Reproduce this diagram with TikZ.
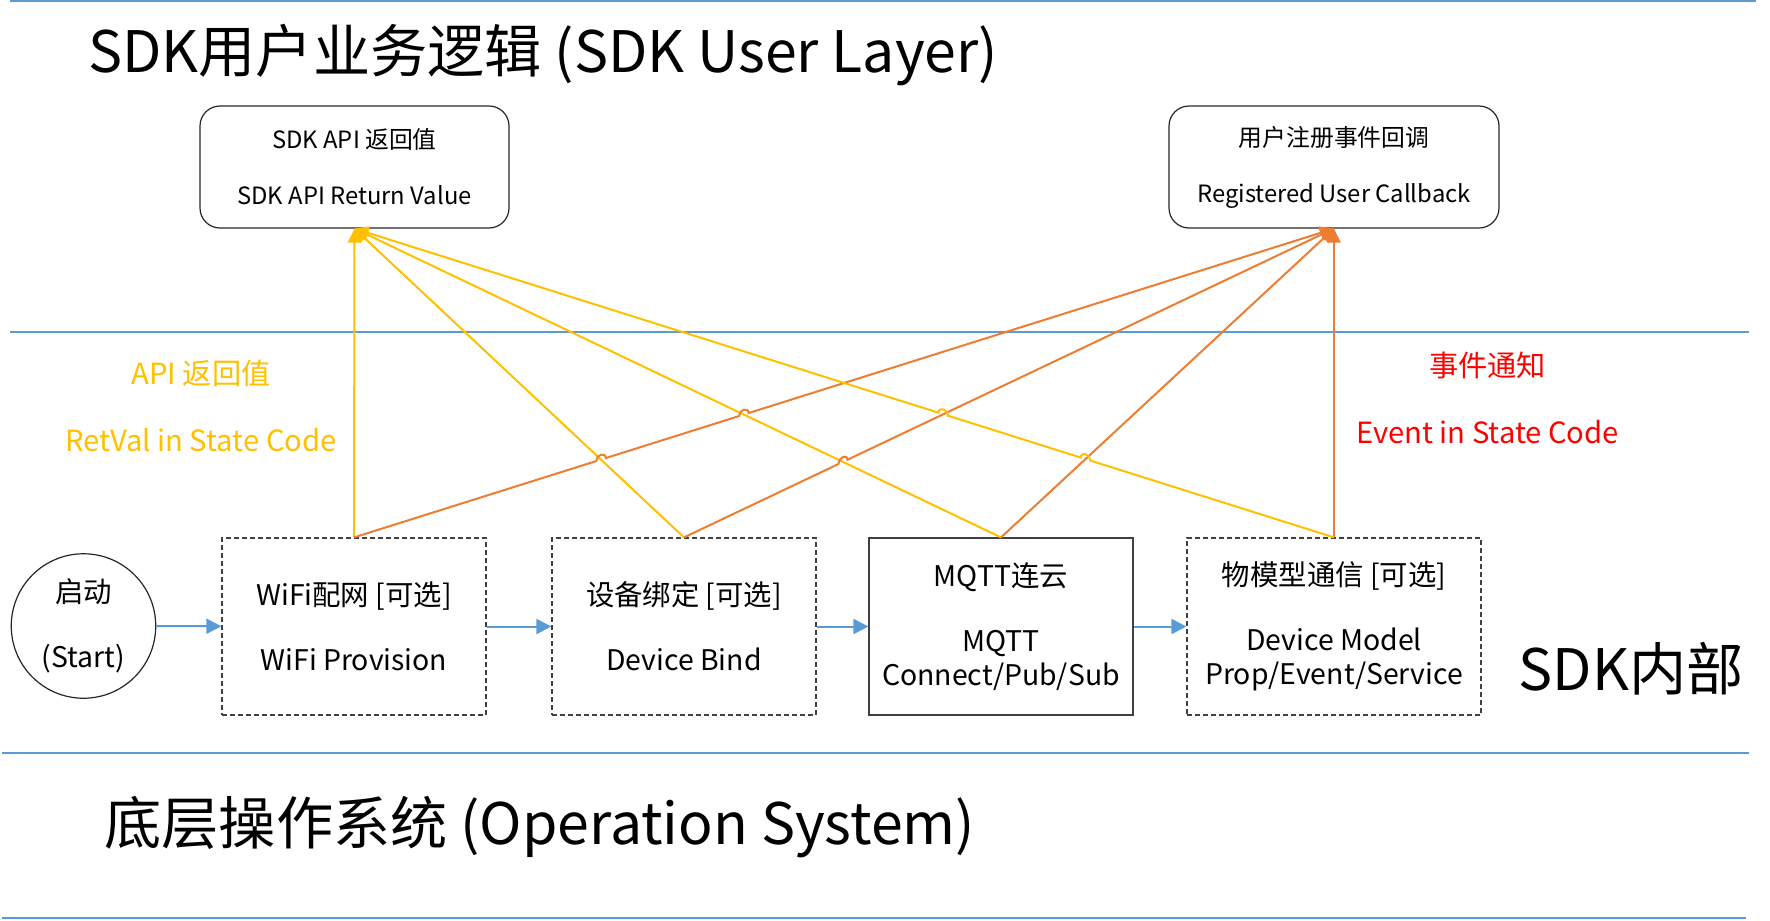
\documentclass[tikz,border=0pt]{standalone}
\usepackage{fontspec}
\setmainfont{Noto Sans CJK SC}
\usepackage{tikz}
\usetikzlibrary{arrows.meta,calc,intersections}
\definecolor{layerblue}{HTML}{5B9BD5}
\definecolor{retyellow}{HTML}{FFC000}
\definecolor{evtorange}{HTML}{ED7D31}
\definecolor{evtred}{HTML}{FF0000}
\newcommand{\layerfont}{\fontsize{28.6}{34}\selectfont}
\newcommand{\topfont}{\fontsize{11.9}{14}\selectfont}
\newcommand{\stepfont}{\fontsize{14.2}{17}\selectfont}
\newcommand{\sidefont}{\fontsize{14.6}{17}\selectfont}
\tikzstyle{userbox} = [draw=black!85, line width=0.6pt, rectangle, rounded corners=10pt, minimum width=154.5pt, minimum height=61pt, align=center, font=\topfont]
\tikzstyle{stepbox} = [draw=black!75, line width=0.6pt, dash pattern=on 2.5pt off 1.5pt, rectangle, minimum width=132pt, minimum height=88.5pt, align=center, font=\stepfont]
\tikzstyle{layerline} = [layerblue, line width=1pt]
\tikzstyle{flow} = [layerblue, line width=1pt, -{Triangle[length=7.5pt,width=7.5pt]}]
\tikzstyle{retline} = [retyellow, line width=1pt, -{Triangle[length=7pt,width=6.5pt]}]
\tikzstyle{evtline} = [evtorange, line width=1pt, -{Triangle[length=7pt,width=6.5pt]}]

\begin{document}
\begin{tikzpicture}[x=0.5pt,y=-0.5pt]
	\useasboundingbox (0,0) rectangle (1770,920);
	% layer separators
	\draw[layerline] (10,1.5) -- (1756,1.5);
	\draw[layerline] (10,332) -- (1749,332);
	\draw[layerline] (2,753) -- (1749,753);
	\draw[layerline] (2,918) -- (1746,918);

	\node[anchor=west, inner sep=0pt, font=\layerfont] (usertitle) at (88,55) {SDK用户业务逻辑 (SDK User Layer)};
	\node[anchor=west, inner sep=0pt, font=\layerfont] (ostitle) at (104,827) {底层操作系统 (Operation System)};
	\node[font=\layerfont] (inner) at (1631,669) {SDK内部};

	\node[userbox] (api) at (354.5,167) {SDK API 返回值\\[14pt]SDK API Return Value};
	\node[userbox, minimum width=165pt] (cb) at (1334,167) {用户注册事件回调\\[14pt]Registered User Callback};

	\node[draw=black!85, line width=0.6pt, circle, minimum size=72pt, align=center, font=\stepfont] (start) at (83.5,626) {启动\\[15.5pt](Start)};
	\node[stepbox] (wifi) at (354,626.5) {WiFi配网 [可选]\\[15.5pt]WiFi Provision};
	\node[stepbox] (bind) at (684,626.5) {设备绑定 [可选]\\[15.5pt]Device Bind};
	\node[stepbox, solid] (mqtt) at (1001,626.5) {MQTT连云\\[15.5pt]MQTT\\Connect/Pub/Sub};
	\node[stepbox, minimum width=147pt] (model) at (1334,626.5) {物模型通信 [可选]\\[15.5pt]Device Model\\Prop/Event/Service};

	\node[text=retyellow, font=\sidefont, align=center] (retlabel) at (201,405.5) {API 返回值\\[16.5pt]RetVal in State Code};
	\node[text=evtred, font=\sidefont, align=center] (evtlabel) at (1487.5,398) {事件通知\\[16.5pt]Event in State Code};

	\draw[flow] (start) -- (wifi);
	\draw[flow] (wifi) -- (bind);
	\draw[flow] (bind) -- (mqtt);
	\draw[flow] (mqtt) -- (model);

	% crossings (for the line hops)
	\path[name path=y2] (bind.north) -- (api.south);
	\path[name path=y3] (mqtt.north) -- (api.south);
	\path[name path=y4] (model.north) -- (api.south);
	\path[name path=o1] (wifi.north) -- (cb.south);
	\path[name path=o2] (bind.north) -- (cb.south);
	\path[name path=o3] (mqtt.north) -- (cb.south);
	\path[name intersections={of=o1 and y2,by=h1}];
	\path[name intersections={of=o1 and y3,by=h2}];
	\path[name intersections={of=o2 and y3,by=h3}];
	\path[name intersections={of=o2 and y4,by=h4}];
	\path[name intersections={of=o3 and y4,by=h5}];

	\draw[retline] (wifi.north) -- (api.south);
	\draw[retline] (bind.north) -- (api.south);
	\draw[retline] (mqtt.north) -- (api.south);

	\draw[evtline] (wifi.north) -- ($(h1)!2.5pt!(wifi.north)$) .. controls +(0,-6.5) and +(0,-6.5) .. ($(h1)!2.5pt!(cb.south)$)
		-- ($(h2)!2.5pt!(wifi.north)$) .. controls +(0,-6.5) and +(0,-6.5) .. ($(h2)!2.5pt!(cb.south)$) -- (cb.south);
	\draw[evtline] (bind.north) -- ($(h3)!2.5pt!(bind.north)$) .. controls +(0,-6.5) and +(0,-6.5) .. ($(h3)!2.5pt!(cb.south)$) -- (cb.south);
	\draw[evtline] (mqtt.north) -- (cb.south);
	\draw[evtline] (model.north) -- (cb.south);

	\draw[retline] (model.north) -- ($(h5)!2.5pt!(model.north)$) .. controls +(0,-6.5) and +(0,-6.5) .. ($(h5)!2.5pt!(api.south)$)
		-- ($(h4)!2.5pt!(model.north)$) .. controls +(0,-6.5) and +(0,-6.5) .. ($(h4)!2.5pt!(api.south)$) -- (api.south);
\end{tikzpicture}
\end{document}
